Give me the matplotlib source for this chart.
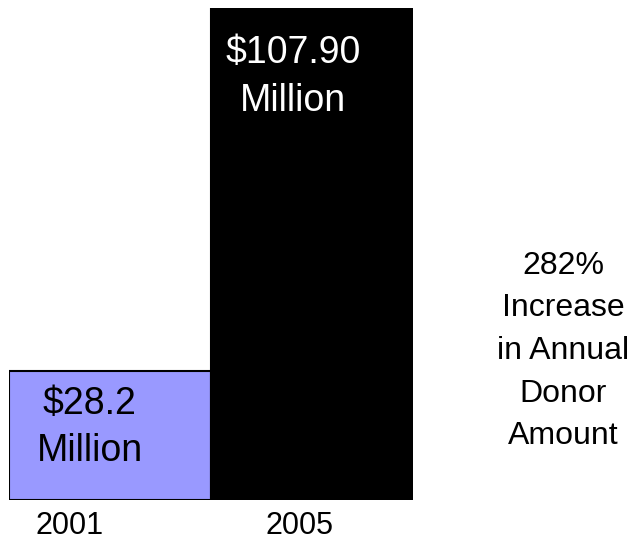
import matplotlib.pyplot as plt

years = ["2001", "2005"]
amounts = [28.2, 107.90]
amount_labels = ["$28.2\nMillion", "$107.90\nMillion"]
side_note = "282%\nIncrease\nin Annual\nDonor\nAmount"

plt.rcParams["font.family"] = ["Liberation Sans", "DejaVu Sans"]

fig = plt.figure(figsize=(6.33, 5.4), dpi=100)
ax = fig.add_axes([9 / 633, 40 / 540, 404 / 633, 492 / 540])

ax.bar([0, 1], amounts, width=1.0, color=["#9999FF", "black"],
       edgecolor="black", linewidth=1.5)
ax.set_xlim(-0.5, 1.5)
ax.set_ylim(0, amounts[1])
ax.axis("off")

# value labels inside the bars
ax.text(-0.1, amounts[0] - 3.2, amount_labels[0], ha="center", va="top",
        fontsize=27, color="black", linespacing=1.4, multialignment="center")
ax.text(0.905, amounts[1] - 6.0, amount_labels[1], ha="center", va="top",
        fontsize=27, color="white", linespacing=1.4, multialignment="center")

# year labels under the bars
ax.text(-0.2, -2.5, years[0], ha="center", va="top", fontsize=22)
ax.text(0.94, -2.5, years[1], ha="center", va="top", fontsize=22)

fig.text(563 / 633, 1 - 351 / 540, side_note, ha="center", va="center",
         fontsize=23, linespacing=1.55, multialignment="center")

fig.savefig("out.png", dpi=100)
plt.close(fig)
